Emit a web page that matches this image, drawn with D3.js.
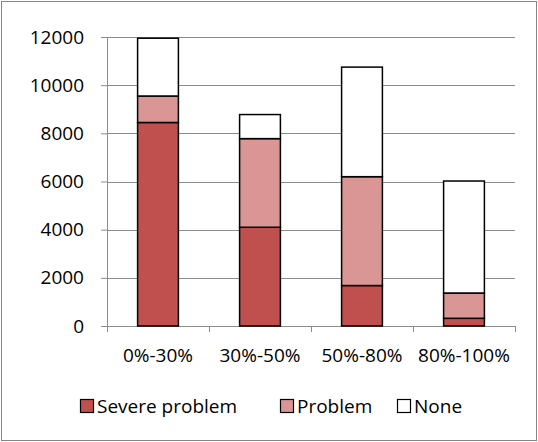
<!DOCTYPE html>
<html>
<head>
<meta charset="utf-8">
<script src="https://cdn.jsdelivr.net/npm/d3@7"></script>
<style>
  body { margin: 0; background: #fff; }
  text { font-family: "Open Sans", sans-serif; font-size: 19px; fill: #000; }
</style>
</head>
<body>
<svg id="chart" width="538" height="442"></svg>
<script>
// categories and stacked series
const categories = ["0%-30%", "30%-50%", "50%-80%", "80%-100%"];
const seriesNames = ["Severe problem", "Problem", "None"];
const severeValues = [8450, 4100, 1680, 320];
const problemValues = [1100, 3680, 4520, 1050];
const noneValues = [2400, 1000, 4550, 4650];
const yTicks = [0, 2000, 4000, 6000, 8000, 10000, 12000];
const colors = ["#C0504D", "#D99694", "#FFFFFF"];

const svg = d3.select("#chart");
const margin = {top: 37, right: 23, bottom: 116, left: 107};
const width = 538 - margin.left - margin.right;
const height = 442 - margin.top - margin.bottom;

// outer chart border
svg.append("rect")
  .attr("x", 1.5).attr("y", 1.5)
  .attr("width", 535).attr("height", 439)
  .attr("fill", "none").attr("stroke", "#868686").attr("stroke-width", 1);

const g = svg.append("g").attr("transform", `translate(${margin.left},${margin.top})`);

const x = d3.scaleBand().domain(categories).range([0, width]).paddingInner(0.6).paddingOuter(0.3);
const y = d3.scaleLinear().domain([0, 12000]).range([height, 0]);

// data table for the stack
const table = categories.map((c, i) => ({
  cat: c,
  "Severe problem": severeValues[i],
  "Problem": problemValues[i],
  "None": noneValues[i]
}));
const stacked = d3.stack().keys(seriesNames)(table);

// gridlines
g.append("g")
  .selectAll("line")
  .data(yTicks)
  .join("line")
  .attr("x1", 0).attr("x2", width)
  .attr("y1", d => Math.round(y(d)) + 0.5).attr("y2", d => Math.round(y(d)) + 0.5)
  .attr("stroke", "#8c8c8c").attr("stroke-width", 1);

// y axis
const yAxis = g.append("g")
  .call(d3.axisLeft(y).tickValues(yTicks).tickSize(6).tickPadding(17).tickFormat(d3.format("d")));
yAxis.select(".domain").attr("stroke", "#8c8c8c");
yAxis.selectAll(".tick line").attr("stroke", "#8c8c8c");
yAxis.selectAll("text").style("font-size", "19px").style("font-family", "Open Sans");

// x axis with ticks at category boundaries
const xAxisG = g.append("g").attr("transform", `translate(0,${height})`);
xAxisG.append("line")
  .attr("x1", 0).attr("x2", width)
  .attr("y1", 0.5).attr("y2", 0.5)
  .attr("stroke", "#8c8c8c");
const step = width / categories.length;
xAxisG.selectAll(".xtick")
  .data(d3.range(categories.length + 1))
  .join("line")
  .attr("class", "xtick")
  .attr("x1", d => Math.round(d * step) + 0.5).attr("x2", d => Math.round(d * step) + 0.5)
  .attr("y1", 0).attr("y2", 6)
  .attr("stroke", "#8c8c8c");
xAxisG.selectAll(".xlab")
  .data(categories)
  .join("text")
  .attr("class", "xlab")
  .attr("x", d => x(d) + x.bandwidth() / 2)
  .attr("y", 29)
  .attr("dy", "0.35em")
  .attr("text-anchor", "middle")
  .text(d => d);

// bars
g.append("g")
  .selectAll("g")
  .data(stacked)
  .join("g")
  .attr("fill", (d, i) => colors[i])
  .selectAll("rect")
  .data(d => d)
  .join("rect")
  .attr("x", d => x(d.data.cat))
  .attr("y", d => y(d[1]))
  .attr("width", x.bandwidth())
  .attr("height", d => y(d[0]) - y(d[1]))
  .attr("stroke", "#000")
  .attr("stroke-width", 1.5);

// legend
const legend = svg.append("g").attr("transform", "translate(0,406)");
const legendX = [80, 280, 397];
seriesNames.forEach((name, i) => {
  const lg = legend.append("g").attr("transform", `translate(${legendX[i]},0)`);
  lg.append("rect")
    .attr("x", 0.5).attr("y", -6.5)
    .attr("width", 13).attr("height", 13)
    .attr("fill", colors[i]).attr("stroke", "#000").attr("stroke-width", 1.2);
  lg.append("text")
    .attr("x", 17).attr("y", 0)
    .attr("dy", "0.35em")
    .text(name);
});
</script>
</body>
</html>
